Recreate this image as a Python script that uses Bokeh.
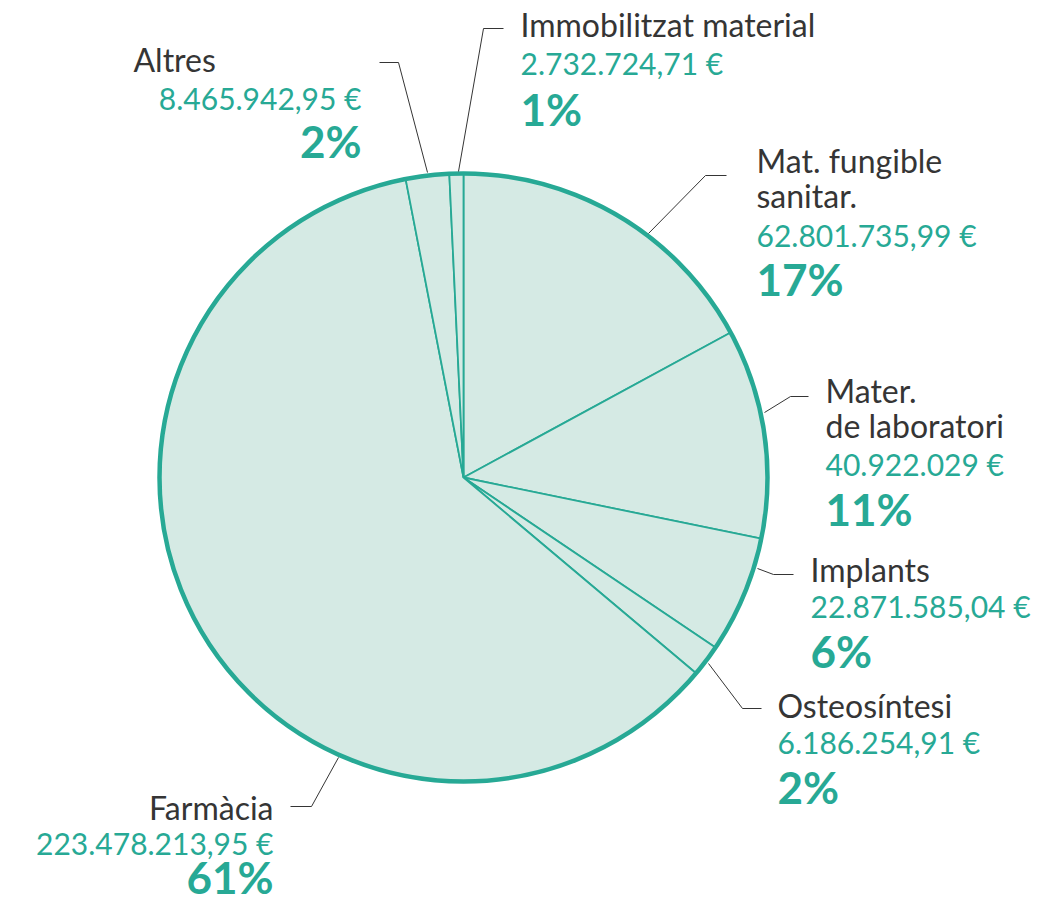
import numpy as np
from bokeh.plotting import figure
from bokeh.models import Range1d, ColumnDataSource
from bokeh.core.properties import value
from bokeh.embed import file_html
from bokeh.resources import INLINE

# ---- data ----
categories = ["Mat. fungible sanitar.", "Mater. de laboratori", "Implants",
              "Osteosíntesi", "Farmàcia", "Altres", "Immobilitzat material"]
label_lines = [["Mat. fungible", "sanitar."], ["Mater.", "de laboratori"], ["Implants"],
               ["Osteosíntesi"], ["Farmàcia"], ["Altres"], ["Immobilitzat material"]]
amounts = [62801735.99, 40922029.00, 22871585.04, 6186254.91,
           223478213.95, 8465942.95, 2732724.71]
amount_labels = ["62.801.735,99 €", "40.922.029 €", "22.871.585,04 €", "6.186.254,91 €",
                 "223.478.213,95 €", "8.465.942,95 €", "2.732.724,71 €"]

# ---- styles / layout ----
TEAL = "#27a995"
FILL = "#d5eae4"
DARK = "#353535"
FONT = "Lato"
W, H = 1035, 905
TOP = 921

def Y(py):
    return TOP - py

# pie geometry (pixel coordinates)
CX, CY, R = 463, 477, 304

# label anchor layout: (x, align, [label baselines], value baseline, pct baseline)
layout = [
    (756, "left", [173, 208], 247, 297),
    (825, "left", [403, 438], 476, 527),
    (810, "left", [582], 618, 669),
    (777, "left", [718], 754, 805),
    (273, "right", [820], 855, 895),
    (None, None, [72], 110, 159),
    (520, "left", [37], 75, 127),
]
# leader polylines (pixel coords)
leaders = [
    [(648, 233), (705, 175), (726, 175)],
    [(764, 412), (790, 396), (808, 396)],
    [(757, 568), (773, 574), (793, 574)],
    [(708, 663), (742, 708), (761, 708)],
    [(338, 757), (311, 806), (290, 806)],
    [(427, 172), (398, 62), (379, 62)],
    [(458, 171), (483, 28), (503, 28)],
]

p = figure(width=W, height=H, output_backend="svg", toolbar_location=None,
           x_range=Range1d(0, W), y_range=Range1d(TOP - H, TOP), min_border=0)
p.axis.visible = False
p.grid.visible = False
p.outline_line_color = None
p.background_fill_color = "white"
p.border_fill_color = "white"

vals = np.array(amounts)
frac = vals / vals.sum()
cum = np.cumsum(frac)
prev = np.concatenate([[0], cum[:-1]])
start = np.pi / 2 - prev * 2 * np.pi
end = np.pi / 2 - cum * 2 * np.pi
pcts = [f"{int(round(f * 100))}%" for f in frac]

src = ColumnDataSource(dict(start=start, end=end, cat=categories))
p.wedge(x=CX, y=Y(CY), radius=R, start_angle="start", end_angle="end",
        direction="clock", source=src, fill_color=FILL, line_color=TEAL, line_width=1.8)
p.circle(x=[CX], y=[Y(CY)], radius=R, fill_color=None, line_color=TEAL, line_width=4.5)

# leaders
p.multi_line(xs=[[a for a, b in l] for l in leaders], ys=[[Y(b) for a, b in l] for l in leaders],
             line_color=DARK, line_width=1)

LBL, VAL, PCT = 32, 30, 44
K = 0.41  # baseline correction (fraction of font size)

def txt(x, b, t, size, color, align, bold=False):
    p.text(x=[x], y=[Y(b) + K * size], text=[t], text_font=value(FONT),
           text_font_style="bold" if bold else "normal",
           text_font_size=f"{size}px", text_color=color, text_align=align,
           text_baseline="alphabetic")

for i, (x, align, lbs, vb, pb) in enumerate(layout):
    if x is None:
        txt(133, lbs[0], label_lines[i][0], LBL, DARK, "left")
        x, align = 361, "right"
    else:
        for line, b in zip(label_lines[i], lbs):
            txt(x, b, line, LBL, DARK, align)
    txt(x, vb, amount_labels[i], VAL, TEAL, align)
    txt(x, pb, pcts[i], PCT, TEAL, align, bold=True)

open("out.html", "w").write(file_html(p, INLINE))
